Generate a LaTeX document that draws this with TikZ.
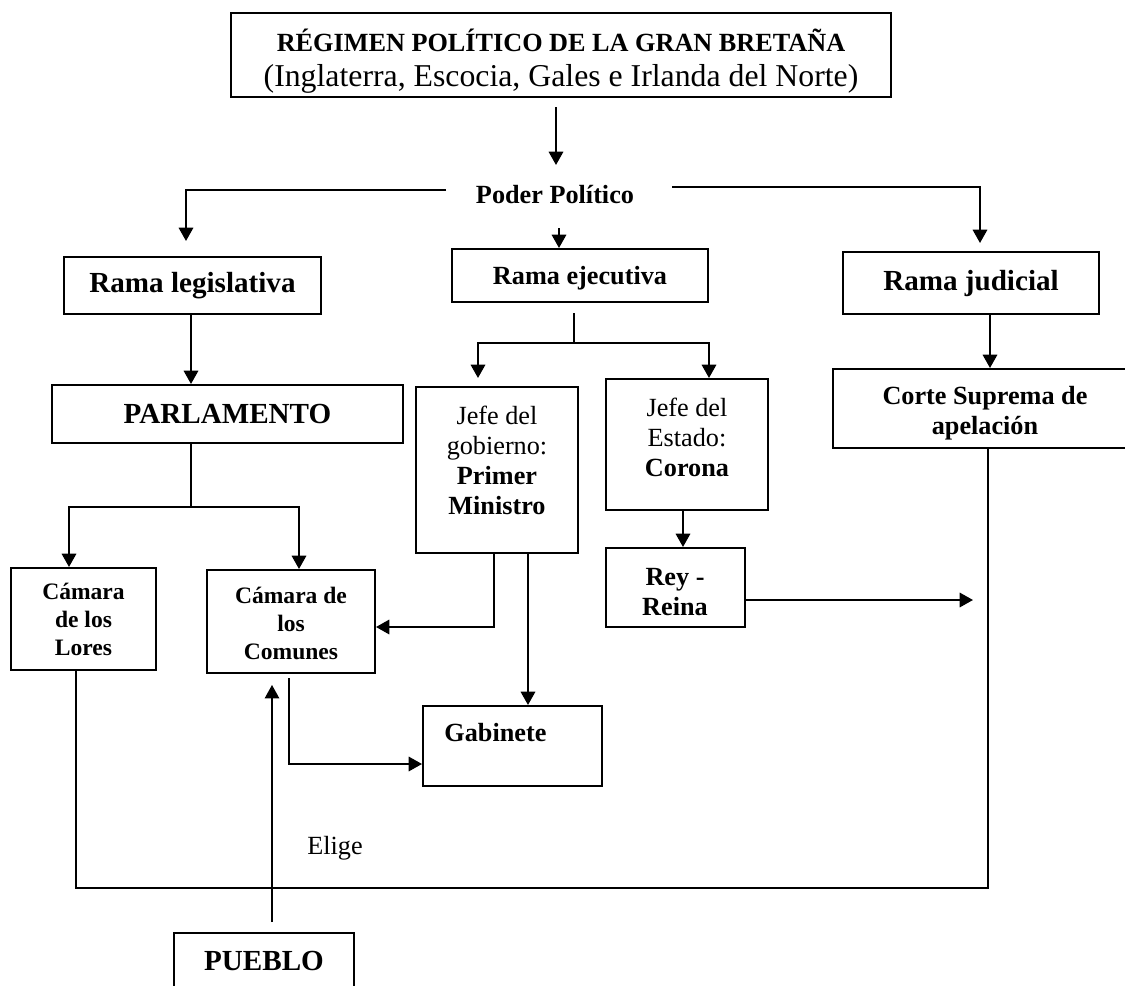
\documentclass[tikz,border=0pt]{standalone}
\usepackage{fontspec}
\setmainfont{Liberation Serif}
\usetikzlibrary{arrows.meta,calc}

\tikzset{
  box/.style 2 args={draw, line width=0.9pt, inner sep=0pt,
    minimum width=#1*0.45pt, minimum height=#2*0.45pt, align=center},
  txt/.style={inner sep=0pt, align=center},
  f12/.style={font=\fontsize{11.8}{13.5}\selectfont},
  f12b/.style={font=\fontsize{11.8}{13.5}\selectfont\bfseries},
  f13b/.style={font=\fontsize{13.1}{14.5}\selectfont\bfseries},
  f11b/.style={font=\fontsize{10.6}{12.6}\selectfont\bfseries},
  conn/.style={line width=0.9pt},
  thinconn/.style={line width=0.55pt},
  arr/.style={conn, -{Triangle[length=6pt,width=6.5pt]}},
  thinarr/.style={thinconn, -{Triangle[length=6pt,width=6.5pt]}},
}

\begin{document}
\begin{tikzpicture}[x=0.45pt,y=-0.45pt]
\useasboundingbox (0,0) rectangle (1125,986);
\clip (0,0) rectangle (1125,986);

% ---- boxes ----
\node[box={660}{84}] (top) at (561,55) {};
\node[txt] (topt) at (561,61)
  {{\fontsize{11.8}{14}\selectfont\bfseries RÉGIMEN POLÍTICO DE LA GRAN BRETAÑA}\\[3.5pt]
   {\fontsize{14.3}{14}\selectfont (Inglaterra, Escocia, Gales e Irlanda del Norte)}};
\node[txt, f12b] (poder) at (555,195) {Poder Político};

\node[box={257}{57}, f13b] (leg) at (192.5,285.5) {Rama legislativa};
\node[box={256}{53}] (eje) at (580,275.5) {};
\node[txt, f12b] (ejet) at (580,278) {Rama ejecutiva};
\node[box={256}{62}, f13b] (jud) at (971,283) {Rama judicial};

\node[box={351}{58}, f13b] (parl) at (227.5,414) {PARLAMENTO};

\node[box={162}{166}] (jg) at (497,470) {};
\node[txt, f12] (jgt) at (497,460.5)
  {Jefe del\\gobierno:\\\textbf{Primer}\\\textbf{Ministro}};

\node[box={162}{131}] (est) at (687,444.5) {};
\node[txt, f12] (estt) at (687,437.5) {Jefe del\\Estado:\\\textbf{Corona}};

\node[box={307}{79}] (corte) at (986.5,408.5) {};
\node[txt, f12b] (cortet) at (985,413) {Corte Suprema de\\apelación};

\node[box={139}{79}] (rey) at (675.5,587.5) {};
\node[txt, f12b] (reyt) at (675,592) {Rey -\\Reina};

\node[box={145}{102}, f11b] (lores) at (83.5,619) {Cámara\\de los\\Lores};
\node[box={168}{103}] (com) at (291,621.5) {};
\node[txt, f11b] (comt) at (291,623.5) {Cámara de\\los\\Comunes};

\node[box={179}{80}] (gab) at (512.5,746) {};
\node[txt, f12b, anchor=west] (gabt) at (444,733) {Gabinete};

\node[box={180}{56}, f13b] (pueblo) at (264,961) {PUEBLO};

\node[txt, f12] (elige) at (335,848) {Elige};

% ---- helper coordinates ----
\coordinate (p0) at (556,107);   \coordinate (p1) at (556,165);
\coordinate (pl) at (446,190);   \coordinate (legin) at (186,241);
\coordinate (pr) at (672,187);   \coordinate (judin) at (980,243);
\coordinate (pc) at (559,228);
\coordinate (lg) at (191,0);
\coordinate (pj) at (191,507);
\coordinate (lx) at (69,0);      \coordinate (cx) at (299,0);
\coordinate (ej0) at (574,313);  \coordinate (ej) at (574,343);
\coordinate (jgin) at (478,378); \coordinate (ex) at (709,0);
\coordinate (jx) at (990,0);     \coordinate (rx) at (683,0);
\coordinate (ry) at (0,600);     \coordinate (reyto) at (973,600);
\coordinate (g1) at (494,0);     \coordinate (g2) at (0,627);
\coordinate (g3) at (528,0);
\coordinate (c0) at (289,678);   \coordinate (c1) at (0,764);
\coordinate (pu0) at (272,922);  \coordinate (pu1) at (272,685);
\coordinate (l0) at (76,0);      \coordinate (l1) at (988,0);
\coordinate (bot) at (0,888);

% ---- connectors ----
\draw[arr] (p0) -- (p1);
\draw[arr] (pl) -| (legin);
\draw[arr] (pr) -| (judin);
\draw[arr] (pc) -- (eje.north -| pc);

\draw[arr] (leg.south -| lg) -- (parl.north -| lg);
\draw[conn] (parl.south -| pj) -- (pj);
\draw[arr] (pj) -| (lores.north -| lx);
\draw[arr] (pj) -| (com.north -| cx);

\draw[conn] (ej0) -- (ej);
\draw[arr] (ej) -| (jgin);
\draw[arr] (ej) -| (est.north -| ex);

\draw[arr] (jud.south -| jx) -- (corte.north -| jx);
\draw[arr] (est.south -| rx) -- (rey.north -| rx);
\draw[arr] (rey.east |- ry) -- (reyto);

\draw[arr] (jg.south -| g1) |- (com.east |- g2);
\draw[arr] (jg.south -| g3) -- (gab.north -| g3);
\draw[arr] (c0) |- (gab.west |- c1);
\draw[thinarr] (pu0) -- (pu1);

\draw[conn] (lores.south -| l0) |- (bot -| l1) -- (corte.south -| l1);
\end{tikzpicture}
\end{document}
